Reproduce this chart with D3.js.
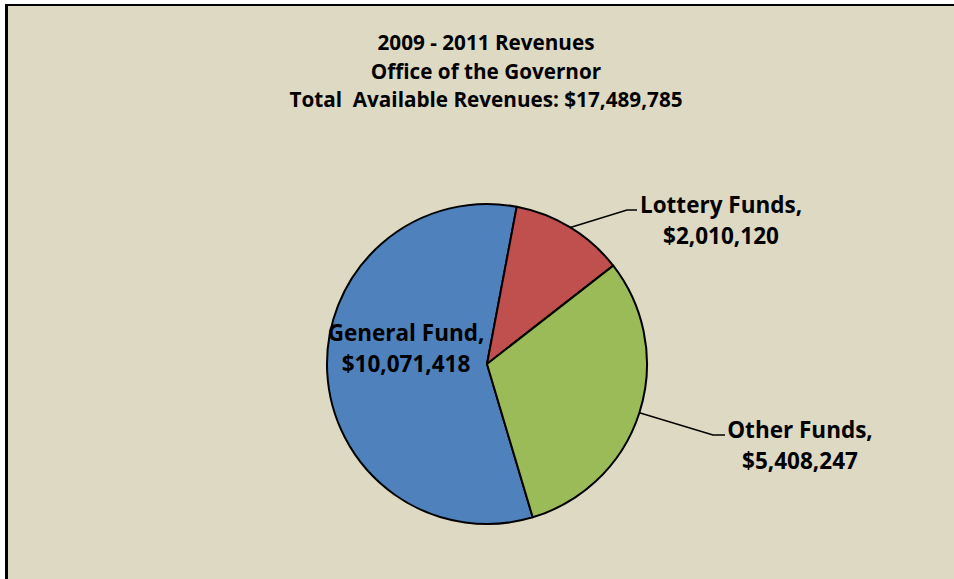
<!DOCTYPE html>
<html>
<head>
<meta charset="utf-8">
<script src="https://cdn.jsdelivr.net/npm/d3@7"></script>
<style>
  html, body { margin: 0; padding: 0; background: #ffffff; }
  svg { display: block; }
  text { font-family: "Open Sans", sans-serif; font-weight: bold; fill: #000; white-space: pre; }
</style>
</head>
<body>
<svg id="chart" width="954" height="579"></svg>
<script>
const categories = ["General Fund", "Lottery Funds", "Other Funds"];
const values = [10071418, 2010120, 5408247];
const colors = ["#4F81BD", "#C0504D", "#9BBB59"];
const titleLines = ["2009 - 2011 Revenues", "Office of the Governor", "Total  Available Revenues: $17,489,785"];

const W = 954, H = 579;
const svg = d3.select("#chart");

svg.append("rect").attr("x", 6).attr("y", 5).attr("width", W - 6).attr("height", H - 5)
  .attr("fill", "#DDD9C3");
svg.append("line").attr("x1", 6).attr("y1", 5).attr("x2", W).attr("y2", 5)
  .attr("stroke", "#000").attr("stroke-width", 2);
svg.append("line").attr("x1", 6.5).attr("y1", 4).attr("x2", 6.5).attr("y2", H)
  .attr("stroke", "#000").attr("stroke-width", 3);

// Title
const title = svg.append("text").attr("text-anchor", "middle").style("font-size", "20.7px");
titleLines.forEach((t, i) => {
  title.append("tspan").attr("x", 486).attr("y", 50 + i * 28.5).text(t);
});

const cx = 487, cy = 364, r = 160;
const fmt = d3.format("$,");
const data = categories.map((c, i) => ({ name: c, value: values[i], color: colors[i] }));

const total = d3.sum(values);
// General Fund ends at the top-right (≈10.7°), slices go clockwise
const startDeg = 10.7 - 360 * values[0] / total;
const pie = d3.pie().sort(null).value(d => d.value)
  .startAngle(startDeg * Math.PI / 180)
  .endAngle(startDeg * Math.PI / 180 + 2 * Math.PI);
const arcs = pie(data);
const arc = d3.arc().innerRadius(0).outerRadius(r);

const g = svg.append("g").attr("transform", `translate(${cx},${cy})`);
g.selectAll("path").data(arcs).join("path")
  .attr("d", arc)
  .attr("fill", d => d.data.color)
  .attr("stroke", "#000")
  .attr("stroke-width", 2)
  .attr("stroke-linejoin", "round");

// Labels
const labelPos = {
  "General Fund": { x: -81, y: -23, leader: null },
  "Lottery Funds": { x: 234, y: -151, leader: { bend: [140, -154], end: [150, -154] } },
  "Other Funds": { x: 313, y: 74, leader: { bend: [226, 71], end: [238, 71] } }
};

arcs.forEach(a => {
  const p = labelPos[a.data.name];
  const mid = (a.startAngle + a.endAngle) / 2;
  if (p.leader) {
    const sx = r * Math.sin(mid), sy = -r * Math.cos(mid);
    g.append("polyline")
      .attr("points", [[sx, sy], p.leader.bend, p.leader.end].map(q => q.join(",")).join(" "))
      .attr("fill", "none").attr("stroke", "#000").attr("stroke-width", 1.5);
  }
  const t = g.append("text").attr("text-anchor", "middle").style("font-size", "22.5px");
  t.append("tspan").attr("x", p.x).attr("y", p.y).text(a.data.name + ",");
  t.append("tspan").attr("x", p.x).attr("y", p.y + 31).text(fmt(a.data.value));
});
</script>
</body>
</html>
